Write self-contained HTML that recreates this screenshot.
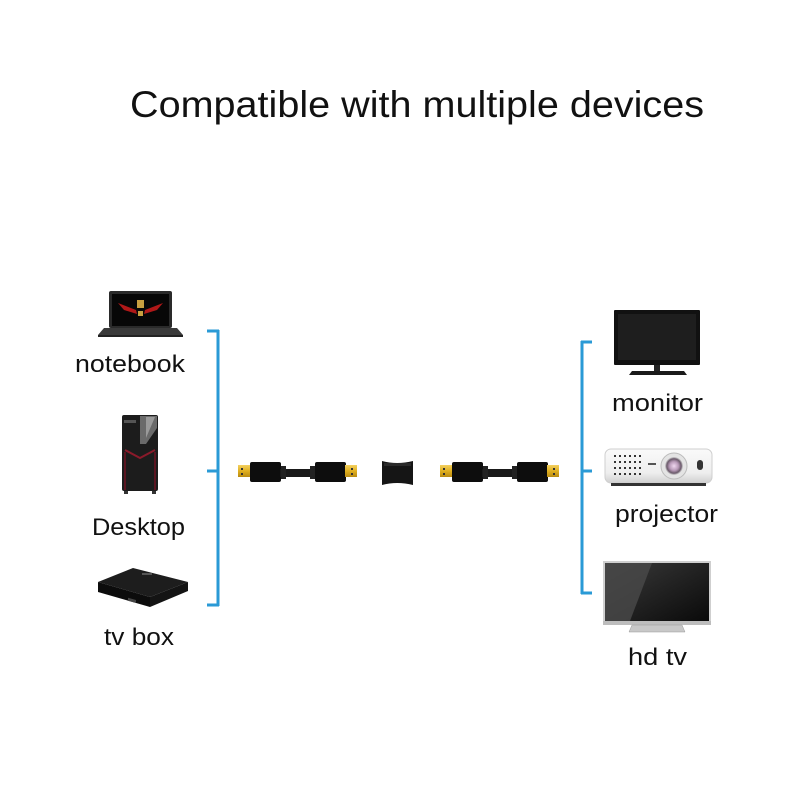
<!DOCTYPE html>
<html><head><meta charset="utf-8"><style>
html,body{margin:0;padding:0;background:#fff;}
svg{display:block;}
text{font-family:"Liberation Sans",sans-serif;fill:#111;}
</style></head><body>
<svg width="800" height="800" viewBox="0 0 800 800" xmlns="http://www.w3.org/2000/svg">
<defs>
<linearGradient id="gold" x1="0" y1="0" x2="0" y2="1"><stop offset="0" stop-color="#f3d060"/><stop offset="0.5" stop-color="#e0b020"/><stop offset="1" stop-color="#b98a10"/></linearGradient>
<linearGradient id="proj" x1="0" y1="0" x2="0" y2="1"><stop offset="0" stop-color="#fafafa"/><stop offset="0.7" stop-color="#eeeeee"/><stop offset="1" stop-color="#cfcfcf"/></linearGradient>
<radialGradient id="lens" cx="0.5" cy="0.5" r="0.5"><stop offset="0" stop-color="#f0d8f0"/><stop offset="0.5" stop-color="#b89ab8"/><stop offset="0.8" stop-color="#6a5a6a"/><stop offset="1" stop-color="#d8d8d8"/></radialGradient>
<linearGradient id="tvs" x1="0" y1="0" x2="1" y2="1"><stop offset="0" stop-color="#3a3a3a"/><stop offset="1" stop-color="#0a0a0a"/></linearGradient>
</defs>

<!-- Title -->
<text x="130" y="117" font-size="37" textLength="574" lengthAdjust="spacingAndGlyphs">Compatible with multiple devices</text>

<!-- Left bracket -->
<g stroke="#2a9ad6" stroke-width="3" fill="none">
<line x1="218" y1="330" x2="218" y2="606"/>
<line x1="207" y1="331" x2="219" y2="331"/>
<line x1="207" y1="471" x2="219" y2="471"/>
<line x1="207" y1="605" x2="219" y2="605"/>
</g>
<!-- Right bracket -->
<g stroke="#2a9ad6" stroke-width="3" fill="none">
<line x1="582" y1="341" x2="582" y2="594"/>
<line x1="581" y1="342" x2="592" y2="342"/>
<line x1="581" y1="471" x2="592" y2="471"/>
<line x1="581" y1="593" x2="592" y2="593"/>
</g>

<!-- Laptop -->
<rect x="109" y="291" width="63" height="37" rx="2" fill="#2a2a2a"/>
<rect x="112" y="294" width="57" height="32" fill="#070707"/>
<path d="M118 303 L136 310 L137 314 L124 310 Z" fill="#b01818"/>
<path d="M163 303 L145 310 L144 314 L157 310 Z" fill="#b01818"/>
<rect x="137" y="300" width="7" height="8" fill="#c8a040"/>
<rect x="138" y="311" width="5" height="5" fill="#c8a040"/>
<path d="M104 328 L177 328 L183 335 L98 335 Z" fill="#3a3a3a"/>
<rect x="98" y="335" width="85" height="2" fill="#222"/>

<!-- Desktop tower -->
<rect x="122" y="415" width="36" height="76" rx="2" fill="#1c1c1c"/>
<path d="M140 416 L157 416 L157 428 L146 444 L140 444 Z" fill="#6a6a6a"/>
<path d="M146 417 L155 417 L146 438 Z" fill="#9a9a9a"/>
<rect x="124" y="420" width="12" height="3" fill="#555"/>
<path d="M125 450 L140 458 L155 450" stroke="#8a1a2a" stroke-width="2" fill="none"/>
<rect x="124" y="452" width="2" height="38" fill="#5a1420"/>
<rect x="154" y="452" width="2" height="38" fill="#5a1420"/>
<rect x="124" y="491" width="4" height="3" fill="#333"/>
<rect x="152" y="491" width="4" height="3" fill="#333"/>

<!-- TV box -->
<path d="M98 582 L133 568 L188 582 L150 597 Z" fill="#1d1d1d"/>
<path d="M98 582 L150 597 L150 607 L98 592 Z" fill="#0c0c0c"/>
<path d="M150 597 L188 582 L188 591 L150 607 Z" fill="#141414"/>
<rect x="128" y="597" width="8" height="3" fill="#444" transform="skewY(16) translate(0,-36)"/>
<rect x="142" y="573" width="10" height="2" fill="#555"/>

<!-- Labels left -->
<text x="75" y="372" font-size="24" textLength="110" lengthAdjust="spacingAndGlyphs">notebook</text>
<text x="92" y="535" font-size="24" textLength="93" lengthAdjust="spacingAndGlyphs">Desktop</text>
<text x="104" y="645" font-size="24" textLength="70" lengthAdjust="spacingAndGlyphs">tv box</text>

<!-- Monitor -->
<rect x="614" y="310" width="86" height="55" rx="1" fill="#111"/>
<rect x="618" y="314" width="78" height="46" fill="#1e1e1e"/>
<rect x="654" y="365" width="6" height="6" fill="#222"/>
<path d="M632 371 L684 371 L687 375 L629 375 Z" fill="#1a1a1a"/>

<!-- Projector -->
<rect x="605" y="449" width="107" height="34" rx="6" fill="url(#proj)" stroke="#cfcfcf" stroke-width="1"/>
<rect x="611" y="483" width="95" height="3" fill="#333"/>
<g fill="#333">
<rect x="614" y="455" width="2" height="2"/><rect x="619" y="455" width="2" height="2"/><rect x="624" y="455" width="2" height="2"/><rect x="629" y="455" width="2" height="2"/><rect x="634" y="455" width="2" height="2"/><rect x="639" y="455" width="2" height="2"/>
<rect x="614" y="461" width="2" height="2"/><rect x="619" y="461" width="2" height="2"/><rect x="624" y="461" width="2" height="2"/><rect x="629" y="461" width="2" height="2"/><rect x="634" y="461" width="2" height="2"/><rect x="639" y="461" width="2" height="2"/>
<rect x="614" y="467" width="2" height="2"/><rect x="619" y="467" width="2" height="2"/><rect x="624" y="467" width="2" height="2"/><rect x="629" y="467" width="2" height="2"/><rect x="634" y="467" width="2" height="2"/><rect x="639" y="467" width="2" height="2"/>
<rect x="614" y="473" width="2" height="2"/><rect x="619" y="473" width="2" height="2"/><rect x="624" y="473" width="2" height="2"/><rect x="629" y="473" width="2" height="2"/><rect x="634" y="473" width="2" height="2"/><rect x="639" y="473" width="2" height="2"/>
</g>
<rect x="648" y="463" width="8" height="2" fill="#555"/>
<circle cx="674" cy="466" r="13" fill="#e4e4e4" stroke="#bbb"/>
<circle cx="674" cy="466" r="9" fill="url(#lens)"/>
<rect x="697" y="460" width="6" height="10" rx="3" fill="#333"/>

<!-- HD TV -->
<rect x="603" y="561" width="108" height="64" fill="#cfcfcf"/>
<rect x="605" y="563" width="104" height="58" fill="url(#tvs)"/>
<path d="M605 563 L652 563 L630 621 L605 621 Z" fill="#4a4a4a" opacity="0.8"/>
<rect x="603" y="621" width="108" height="4" fill="#bdbdbd"/>
<path d="M632 625 L682 625 L685 632 L629 632 Z" fill="#c8c8c8" stroke="#999" stroke-width="0.5"/>

<!-- Labels right -->
<text x="612" y="411" font-size="24" textLength="91" lengthAdjust="spacingAndGlyphs">monitor</text>
<text x="615" y="522" font-size="24" textLength="103" lengthAdjust="spacingAndGlyphs">projector</text>
<text x="628" y="665" font-size="24" textLength="59" lengthAdjust="spacingAndGlyphs">hd tv</text>

<!-- Cable 1 -->
<g>
<rect x="238" y="465" width="13" height="12" fill="url(#gold)"/>
<rect x="241" y="468" width="2" height="2" fill="#333"/><rect x="241" y="473" width="2" height="2" fill="#333"/>
<rect x="250" y="462" width="31" height="20" rx="2" fill="#0d0d0d"/>
<rect x="280" y="469" width="36" height="8" fill="#1a1a1a"/>
<rect x="281" y="466" width="5" height="13" fill="#222"/>
<rect x="310" y="466" width="5" height="13" fill="#222"/>
<rect x="315" y="462" width="31" height="20" rx="2" fill="#0d0d0d"/>
<rect x="345" y="465" width="12" height="12" fill="url(#gold)"/>
<rect x="351" y="468" width="2" height="2" fill="#333"/><rect x="351" y="473" width="2" height="2" fill="#333"/>
</g>

<!-- Coupler -->
<path d="M382 461 Q397 465 413 461 L413 485 Q397 481 382 485 Z" fill="#151515"/>
<rect x="384" y="463" width="27" height="3" fill="#2a2a2a"/>

<!-- Cable 2 -->
<g>
<rect x="440" y="465" width="13" height="12" fill="url(#gold)"/>
<rect x="443" y="468" width="2" height="2" fill="#333"/><rect x="443" y="473" width="2" height="2" fill="#333"/>
<rect x="452" y="462" width="31" height="20" rx="2" fill="#0d0d0d"/>
<rect x="482" y="469" width="36" height="8" fill="#1a1a1a"/>
<rect x="483" y="466" width="5" height="13" fill="#222"/>
<rect x="512" y="466" width="5" height="13" fill="#222"/>
<rect x="517" y="462" width="31" height="20" rx="2" fill="#0d0d0d"/>
<rect x="547" y="465" width="12" height="12" fill="url(#gold)"/>
<rect x="553" y="468" width="2" height="2" fill="#333"/><rect x="553" y="473" width="2" height="2" fill="#333"/>
</g>
</svg>
</body></html>
